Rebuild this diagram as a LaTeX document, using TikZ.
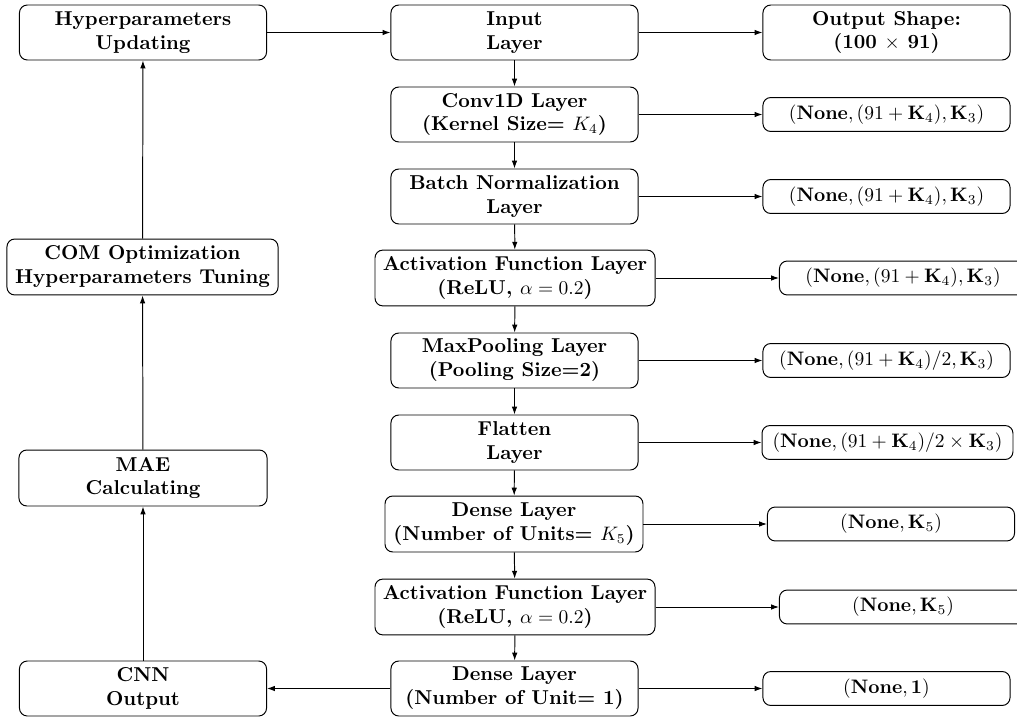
\documentclass[tikz,border=0pt]{standalone}
\usetikzlibrary{arrows.meta}
\begin{document}
\begin{tikzpicture}[x=0.5128pt,y=-0.5128pt,
  box/.style={draw, rounded corners=4pt, align=center, font=\fontsize{10.3}{12.3}\selectfont\bfseries, inner sep=1pt, line width=0.5pt},
  cbox/.style={box, minimum width=126.7pt, minimum height=28.2pt},
  wbox/.style={box, minimum width=143.6pt, minimum height=28.6pt},
  rbox/.style={box, font=\bfseries, minimum width=126.7pt, minimum height=17.4pt},
  arr/.style={-{Latex[length=4pt,width=2.8pt]}, line width=0.5pt}]
\clip (0,0) rectangle (1017,723);
% left column
\node[cbox] (hyp) at (143,32.5) {Hyperparameters\\Updating};
\node[box, minimum width=139pt, minimum height=28.7pt] (com) at (142.5,267) {COM Optimization\\Hyperparameters Tuning};
\node[box, minimum width=127.2pt, minimum height=28.7pt] (mae) at (143,478) {MAE\\Calculating};
\node[cbox] (cnn) at (143,688.5) {CNN\\Output};
% center column
\node[cbox] (inp) at (514.5,32.5) {Input\\Layer};
\node[cbox] (conv) at (514.5,114.5) {Conv1D Layer\\(Kernel Size= $K_4$)};
\node[cbox] (bn) at (514.5,196.5) {Batch Normalization\\Layer};
\node[wbox] (act1) at (515,278) {Activation Function Layer\\(ReLU, $\alpha=0.2$)};
\node[cbox] (mp) at (514.5,360.5) {MaxPooling Layer\\(Pooling Size=2)};
\node[cbox] (fl) at (514.5,442.5) {Flatten\\Layer};
\node[box, minimum width=132.3pt, minimum height=28.7pt] (d1) at (514,524) {Dense Layer\\(Number of Units= $K_5$)};
\node[wbox] (act2) at (515,607) {Activation Function Layer\\(ReLU, $\alpha=0.2$)};
\node[cbox] (d2) at (514.5,688.5) {Dense Layer\\(Number of Unit= 1)};
% right column
\node[cbox] (os) at (886.5,32.5) {Output Shape:\\(100 $\times$ 91)};
\node[rbox] (r2) at (886.5,114.5) {$(\mathbf{None},(91+\mathbf{K}_4),\mathbf{K}_3)$};
\node[rbox] (r3) at (886.5,196.5) {$(\mathbf{None},(91+\mathbf{K}_4),\mathbf{K}_3)$};
\node[rbox] (r4) at (903,278) {$(\mathbf{None},(91+\mathbf{K}_4),\mathbf{K}_3)$};
\node[rbox] (r5) at (886.5,360.5) {$(\mathbf{None},(91+\mathbf{K}_4)/2,\mathbf{K}_3)$};
\node[rbox, minimum width=128.7pt] (r6) at (887.5,442.5) {$(\mathbf{None},(91+\mathbf{K}_4)/2\times\mathbf{K}_3)$};
\node[rbox] (r7) at (891,524) {$(\mathbf{None},\mathbf{K}_5)$};
\node[rbox] (r8) at (903,607) {$(\mathbf{None},\mathbf{K}_5)$};
\node[rbox] (r9) at (886.5,688.5) {$(\mathbf{None},\mathbf{1})$};
% connectors
\draw[arr] (hyp) -- (inp);
\draw[arr] (inp) -- (os);
\draw[arr] (inp) -- (conv);
\draw[arr] (conv) -- (bn);
\draw[arr] (bn) -- (act1);
\draw[arr] (act1) -- (mp);
\draw[arr] (mp) -- (fl);
\draw[arr] (fl) -- (d1);
\draw[arr] (d1) -- (act2);
\draw[arr] (act2) -- (d2);
\draw[arr] (conv) -- (r2);
\draw[arr] (bn) -- (r3);
\draw[arr] (act1) -- (r4);
\draw[arr] (mp) -- (r5);
\draw[arr] (fl) -- (r6);
\draw[arr] (d1) -- (r7);
\draw[arr] (act2) -- (r8);
\draw[arr] (d2) -- (r9);
\draw[arr] (d2) -- (cnn);
\draw[arr] (cnn) -- (mae);
\draw[arr] (mae) -- (com);
\draw[arr] (com) -- (hyp);
\end{tikzpicture}
\end{document}
